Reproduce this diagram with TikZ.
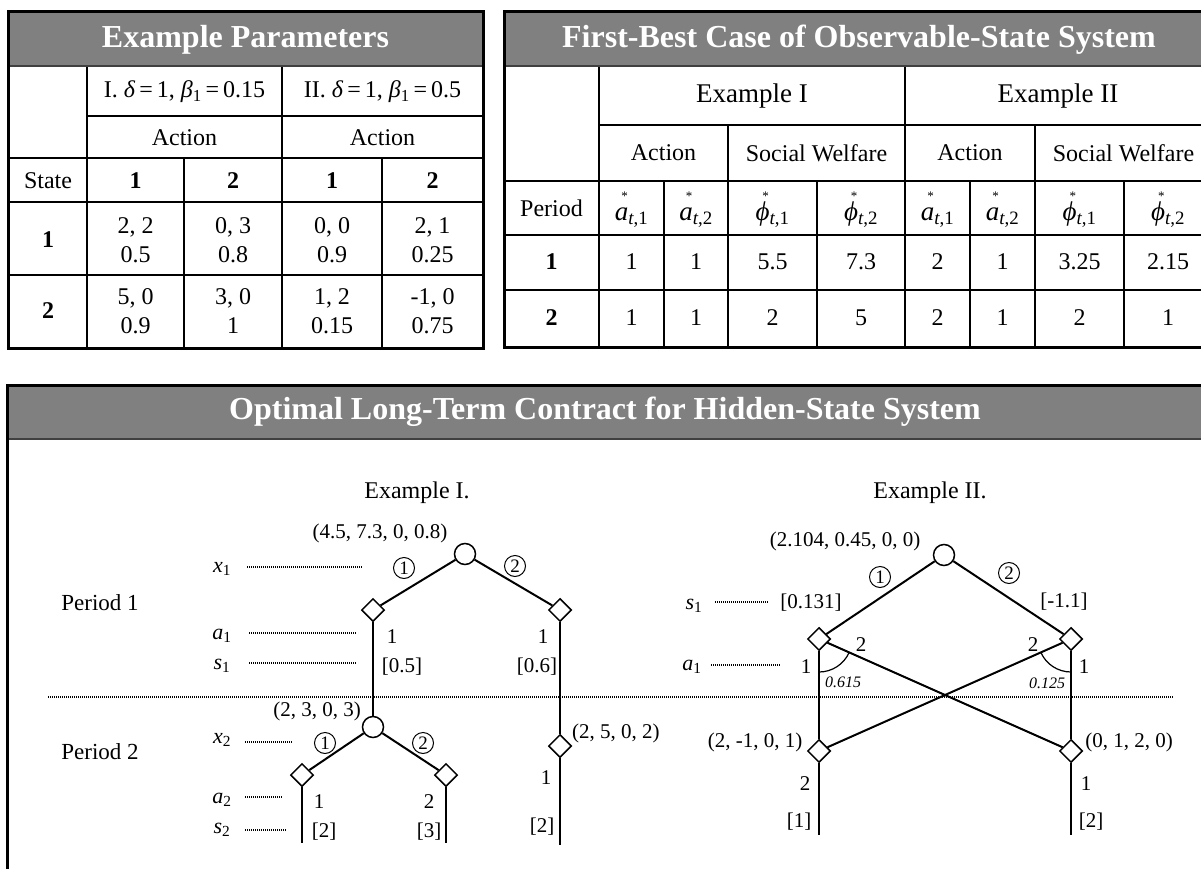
\documentclass[tikz,border=0pt]{standalone}
\usepackage{fontspec}
\setmainfont{Liberation Serif}
\usetikzlibrary{shapes.geometric,calc}
\definecolor{hdr}{HTML}{808080}
\definecolor{hline}{HTML}{404040}
\newcommand{\fs}[1]{\fontsize{#1}{#1}\selectfont}
\newcommand{\subv}[2]{\textit{#1}\textsubscript{#2}}
\newcommand{\stv}[2]{\textit{#1}\llap{\raisebox{0.74em}{\fs{13}*}\hspace{0.02em}}\textsubscript{\textit{t},#2}}
\begin{document}
\begin{tikzpicture}[x=1pt,y=-1pt,
  cell/.style={inner sep=0pt, align=center, font=\fs{24}},
  cell2/.style={inner sep=0pt, align=center, font=\fontsize{24}{29}\selectfont},
  bcell/.style={inner sep=0pt, font=\fs{24}\bfseries},
  ttl/.style={inner sep=0pt, font=\fs{32}\bfseries, text=white},
  lbl/.style={inner sep=0pt, font=\fs{21}},
  vlab/.style={inner sep=0pt, font=\fs{22}},
  grid/.style={line width=1.5pt},
  frame/.style={line width=3pt},
  tline/.style={line width=2pt},
  dots/.style={line width=1.2pt, dash pattern=on 1pt off 1pt},
  cnode/.style={circle, draw, line width=1.5pt, minimum size=21pt, inner sep=0pt, fill=white},
  dnode/.style={diamond, draw, line width=1.5pt, minimum width=23pt, minimum height=23pt, inner sep=0pt, fill=white},
  cnum/.style={circle, draw, line width=1pt, minimum size=21pt, inner sep=0pt, font=\fs{19}},
  ang/.style={line width=1.2pt}
]
\useasboundingbox (0,0) rectangle (1201,869);
\clip (0,0) rectangle (1201,869);

% ================= Left table =================
\fill[hdr] (8,12) rectangle (483,66);
\draw[grid] (87,116) -- (483,116);
\draw[grid] (8,158) -- (483,158);
\draw[grid] (8,202) -- (483,202);
\draw[grid] (8,275) -- (483,275);
\draw[grid] (87,66) -- (87,348);
\draw[grid] (282,66) -- (282,348);
\draw[grid] (184,158) -- (184,348);
\draw[grid] (382,158) -- (382,348);
\draw[line width=2pt, hline] (8,66) -- (483,66);
\draw[frame] (8,12) rectangle (483,348);

\node[ttl] (lt) at (245.5,40) {Example Parameters};
\node[cell] (p1) at (184.5,92) {I. \textit{δ}\,=\,1, \textit{β}\textsubscript{1}\,=\,0.15};
\node[cell] (p2) at (382.5,92) {II. \textit{δ}\,=\,1, \textit{β}\textsubscript{1}\,=\,0.5};
\node[cell] (ac1) at (184.5,138) {Action};
\node[cell] (ac2) at (382.5,138) {Action};
\node[cell] (st) at (48,181) {State};
\node[bcell] (h1) at (135.5,181) {1};
\node[bcell] (h2) at (233,181) {2};
\node[bcell] (h3) at (332,181) {1};
\node[bcell] (h4) at (432.5,181) {2};
\node[bcell] (s1) at (48,240) {1};
\node[bcell] (s2) at (48,311) {2};
\node[cell2] (c11) at (135.5,240) {2, 2\\0.5};
\node[cell2] (c12) at (233,240) {0, 3\\0.8};
\node[cell2] (c13) at (332,240) {0, 0\\0.9};
\node[cell2] (c14) at (432.5,240) {2, 1\\0.25};
\node[cell2] (c21) at (135.5,311) {5, 0\\0.9};
\node[cell2] (c22) at (233,311) {3, 0\\1};
\node[cell2] (c23) at (332,311) {1, 2\\0.15};
\node[cell2] (c24) at (432.5,311) {-1, 0\\0.75};

% ================= Right table =================
\fill[hdr] (504,12) rectangle (1215,66);
\draw[grid] (504,181) -- (1215,181);
\draw[grid] (504,235) -- (1215,235);
\draw[grid] (504,290) -- (1215,290);
\draw[grid] (599,125) -- (1215,125);
\draw[grid] (599,66) -- (599,347);
\draw[grid] (905,66) -- (905,347);
\draw[grid] (728,125) -- (728,347);
\draw[grid] (1035,125) -- (1035,347);
\foreach \xx in {664,817,970,1124} {\draw[grid] (\xx,181) -- (\xx,347);}
\draw[line width=2pt, hline] (504,66) -- (1215,66);
\draw[frame] (1215,12) -- (504,12) -- (504,347) -- (1215,347);

\node[ttl] (rt) at (859,40) {First-Best Case of Observable-State System};
\node[cell, font=\fs{27}] (ex1) at (752,96) {Example I};
\node[cell, font=\fs{27}] (ex2) at (1058,96) {Example II};
\node[cell] (ra1) at (663.5,153) {Action};
\node[cell] (rw1) at (816.5,153) {Social Welfare};
\node[cell] (ra2) at (970,153) {Action};
\node[cell] (rw2) at (1123.5,153) {Social Welfare};
\node[cell] (per) at (551.5,208) {Period};
\node[cell, font=\fs{27}] (m1) at (631.5,210) {\stv{a}{1}};
\node[cell, font=\fs{27}] (m2) at (696,210) {\stv{a}{2}};
\node[cell, font=\fs{27}] (m3) at (772.5,210) {\stv{ϕ}{1}};
\node[cell, font=\fs{27}] (m4) at (861,210) {\stv{ϕ}{2}};
\node[cell, font=\fs{27}] (m5) at (937.5,210) {\stv{a}{1}};
\node[cell, font=\fs{27}] (m6) at (1002.5,210) {\stv{a}{2}};
\node[cell, font=\fs{27}] (m7) at (1079.5,210) {\stv{ϕ}{1}};
\node[cell, font=\fs{27}] (m8) at (1168,210) {\stv{ϕ}{2}};
\node[bcell] (rp1) at (551.5,262) {1};
\node[bcell] (rp2) at (551.5,318) {2};
\node[cell] (v11) at (631.5,262) {1};
\node[cell] (v12) at (696,262) {1};
\node[cell] (v13) at (772.5,262) {5.5};
\node[cell] (v14) at (861,262) {7.3};
\node[cell] (v15) at (937.5,262) {2};
\node[cell] (v16) at (1002.5,262) {1};
\node[cell] (v17) at (1079.5,262) {3.25};
\node[cell] (v18) at (1168,262) {2.15};
\node[cell] (v21) at (631.5,318) {1};
\node[cell] (v22) at (696,318) {1};
\node[cell] (v23) at (772.5,318) {2};
\node[cell] (v24) at (861,318) {5};
\node[cell] (v25) at (937.5,318) {2};
\node[cell] (v26) at (1002.5,318) {1};
\node[cell] (v27) at (1079.5,318) {2};
\node[cell] (v28) at (1168,318) {1};

% ================= Bottom panel =================
\fill[hdr] (8,385) rectangle (1215,439);
\draw[line width=1.5pt, hline] (8,439) -- (1215,439);
\draw[frame] (7,900) -- (7,385) -- (1215,385);
\node[ttl] (bt) at (605,412) {Optimal Long-Term Contract for Hidden-State System};

\node[cell] (exa) at (417,493) {Example I.};
\node[cell] (exb) at (930,493) {Example II.};

\node[vlab, font=\fs{23}] (per1) at (100,603) {Period 1};
\node[vlab, font=\fs{23}] (per2) at (100,752) {Period 2};

% separator
\coordinate (sepL) at (48,697);
\coordinate (sepR) at (1173,697);
\draw[dots, line width=1.5pt] (sepL) -- (sepR);

% ---------- Example I tree ----------
\node[cnode] (r1) at (465,554) {};
\node[dnode] (d1L) at (373,610) {};
\node[dnode] (d1R) at (560,610) {};
\node[cnode] (c2) at (373,727) {};
\node[dnode] (d2L) at (302,775) {};
\node[dnode] (d2R) at (446,775) {};
\node[dnode] (d2X) at (560,746) {};
\coordinate (e2L) at (302,843);
\coordinate (e2R) at (446,843);
\coordinate (e2X) at (560,845);
\draw[tline] (r1) -- (d1L);
\draw[tline] (r1) -- (d1R);
\draw[tline] (d1L) -- (c2);
\draw[tline] (d1R) -- (d2X);
\draw[tline] (c2) -- (d2L);
\draw[tline] (c2) -- (d2R);
\draw[tline] (d2L) -- (e2L);
\draw[tline] (d2R) -- (e2R);
\draw[tline] (d2X) -- (e2X);

\node[lbl] (v1) at (380,533) {(4.5, 7.3, 0, 0.8)};
\node[cnum] (n11) at (404,568) {1};
\node[cnum] (n12) at (515,566) {2};
\node[lbl] (la1) at (392,637) {1};
\node[lbl] (lb1) at (543,637) {1};
\node[lbl] (ls1) at (402,667) {[0.5]};
\node[lbl] (ls2) at (537,667) {[0.6]};
\node[lbl] (v2) at (317,711) {(2, 3, 0, 3)};
\node[cnum] (n21) at (325,743) {1};
\node[cnum] (n22) at (423,743) {2};
\node[lbl, anchor=west] (v3) at (572,733) {(2, 5, 0, 2)};
\node[lbl] (la2) at (319,802) {1};
\node[lbl] (lb2) at (429,802) {2};
\node[lbl] (lc2) at (546,778) {1};
\node[lbl] (ls3) at (324,832) {[2]};
\node[lbl] (ls4) at (429,832) {[3]};
\node[lbl] (ls5) at (542,827) {[2]};

% left-side variable labels
\node[vlab] (x1) at (222,569) {\subv{x}{1}};
\node[vlab] (a1) at (222,636) {\subv{a}{1}};
\node[vlab] (s1l) at (222,666) {\subv{s}{1}};
\node[vlab] (x2) at (222,740) {\subv{x}{2}};
\node[vlab] (a2) at (222,800) {\subv{a}{2}};
\node[vlab] (s2l) at (222,830) {\subv{s}{2}};
\coordinate (x1a) at (247,567); \coordinate (x1b) at (362,567);
\coordinate (a1a) at (249,633); \coordinate (a1b) at (356,633);
\coordinate (s1a) at (249,663); \coordinate (s1b) at (356,663);
\coordinate (x2a) at (245,742); \coordinate (x2b) at (292,742);
\coordinate (a2a) at (245,797); \coordinate (a2b) at (283,797);
\coordinate (s2a) at (245,830); \coordinate (s2b) at (286,830);
\draw[dots] (x1a) -- (x1b);
\draw[dots] (a1a) -- (a1b);
\draw[dots] (s1a) -- (s1b);
\draw[dots] (x2a) -- (x2b);
\draw[dots] (a2a) -- (a2b);
\draw[dots] (s2a) -- (s2b);

% ---------- Example II tree ----------
\node[cnode] (r2) at (944,555) {};
\node[dnode] (dL) at (819,639) {};
\node[dnode] (dR) at (1071,639) {};
\node[dnode] (dLL) at (819,751) {};
\node[dnode] (dRR) at (1071,751) {};
\coordinate (eL) at (819,835);
\coordinate (eR) at (1071,835);
\draw[tline] (r2) -- (dL);
\draw[tline] (r2) -- (dR);
\draw[tline] (dL) -- (dLL);
\draw[tline] (dR) -- (dRR);
\draw[tline] (dL) -- (dRR);
\draw[tline] (dR) -- (dLL);
\draw[tline] (dLL) -- (eL);
\draw[tline] (dRR) -- (eR);
\draw[ang] ($(dL)+(-90:33pt)$) arc[start angle=-90, end angle=-24, radius=33pt];
\draw[ang] ($(dR)+(-156:33pt)$) arc[start angle=-156, end angle=-90, radius=33pt];

\node[lbl] (w1) at (845,541) {(2.104, 0.45, 0, 0)};
\node[cnum] (m21) at (880,577) {1};
\node[cnum] (m22) at (1009,573) {2};
\node[lbl] (q1) at (811,603) {[0.131]};
\node[lbl] (q2) at (1064,602) {[-1.1]};
\node[vlab] (s1r) at (694,606) {\subv{s}{1}};
\node[vlab] (a1r) at (692,667) {\subv{a}{1}};
\coordinate (s1ra) at (715,602); \coordinate (s1rb) at (769,602);
\coordinate (a1ra) at (711,665); \coordinate (a1rb) at (780,665);
\draw[dots] (s1ra) -- (s1rb);
\draw[dots] (a1ra) -- (a1rb);
\node[lbl] (k1) at (806,667) {1};
\node[lbl] (k2) at (861,645) {2};
\node[lbl] (k3) at (1033,645) {2};
\node[lbl] (k4) at (1084,667) {1};
\node[lbl, font=\fs{16}\itshape] (pr1) at (843,682) {0.615};
\node[lbl, font=\fs{16}\itshape] (pr2) at (1047,683) {0.125};
\node[lbl] (w2) at (755,742) {(2, -1, 0, 1)};
\node[lbl] (w3) at (1129,742) {(0, 1, 2, 0)};
\node[lbl] (k5) at (805,784) {2};
\node[lbl] (k6) at (1086,784) {1};
\node[lbl] (q3) at (799,822) {[1]};
\node[lbl] (q4) at (1091,822) {[2]};
\end{tikzpicture}
\end{document}
